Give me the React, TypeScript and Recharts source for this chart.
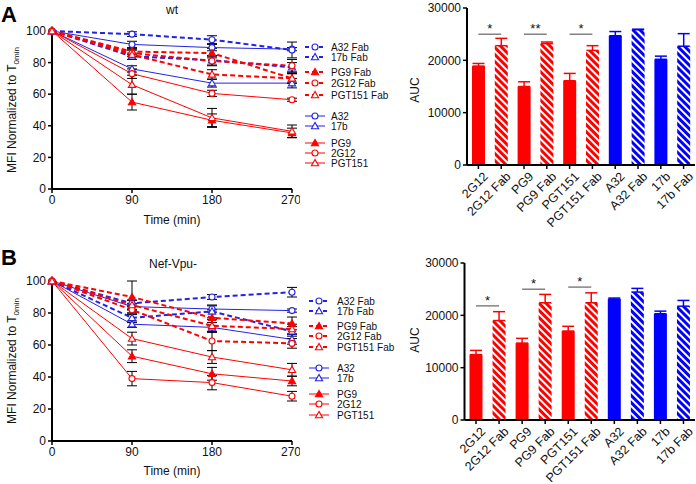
import React from 'react';
import { LineChart, Line, XAxis, YAxis, ErrorBar, BarChart, Bar, ReferenceLine } from 'recharts';

const RED = '#ff0000';
const BLUE = '#0000ff';
const LBLUE = '#2323e8';
const FONT = '"Liberation Sans", Arial, Helvetica, sans-serif';

const timePoints = [0, 90, 180, 270];

// panel A (wt), MFI normalized to T0min
const wtA32Fab = [100, 98, 94.5, 88];
const wtA32FabErr = [0, 1.5, 2.5, 5];
const wt17bFab = [100, 84, 81.5, 77];
const wt17bFabErr = [0, 2, 3, 3];
const wtPG9Fab = [100, 87, 86, 70];
const wtPG9FabErr = [0, 2, 3, 3];
const wt2G12Fab = [100, 86, 81, 78];
const wt2G12FabErr = [0, 2, 3, 4];
const wtPGT151Fab = [100, 85, 72.5, 70];
const wtPGT151FabErr = [0, 3, 3, 3];
const wtA32 = [100, 91.5, 89.5, 88.5];
const wtA32Err = [0, 2, 2, 1];
const wt17b = [100, 76, 67, 67];
const wt17bErr = [0, 2, 2.5, 3];
const wtPG9 = [100, 55, 43.5, 35.5];
const wtPG9Err = [0, 5, 4, 3];
const wt2G12 = [100, 73, 60.5, 56.5];
const wt2G12Err = [0, 3, 2, 1];
const wtPGT151 = [100, 66, 45, 36.5];
const wtPGT151Err = [0, 6, 6, 4];

// panel B (Nef-Vpu-)
const nvA32Fab = [100, 86, 90, 93];
const nvA32FabErr = [0, 2, 1.5, 3];
const nv17bFab = [100, 77, 81, 68.5];
const nv17bFabErr = [0, 3, 4, 3];
const nvPG9Fab = [100, 90, 77, 73.5];
const nvPG9FabErr = [0, 10, 5, 4];
const nv2G12Fab = [100, 82, 62.5, 61];
const nv2G12FabErr = [0, 3, 6, 3];
const nvPGT151Fab = [100, 85, 72, 70];
const nvPGT151FabErr = [0, 3, 4, 3];
const nvA32 = [100, 84, 82.5, 81.5];
const nvA32Err = [0, 2, 2, 1];
const nv17b = [100, 73, 71, 63.5];
const nv17bErr = [0, 2, 3, 3];
const nvPG9 = [100, 53, 42, 37.5];
const nvPG9Err = [0, 4, 4, 3];
const nv2G12 = [100, 39, 36.5, 28];
const nv2G12Err = [0, 4.5, 4.5, 3];
const nvPGT151 = [100, 64, 52.5, 44.5];
const nvPGT151Err = [0, 4, 4, 4];

// AUC bars
const aucCategories = ['2G12', '2G12 Fab', 'PG9', 'PG9 Fab', 'PGT151', 'PGT151 Fab', 'A32', 'A32 Fab', '17b', '17b Fab'];
const wtAuc = [18900, 22800, 15000, 23200, 16100, 21900, 24700, 25850, 20200, 22700];
const wtAucErr = [500, 1400, 900, 300, 1400, 900, 800, 100, 600, 2400];
const nvAuc = [12500, 19000, 14700, 22400, 17000, 22400, 23100, 24450, 20300, 21750];
const nvAucErr = [800, 1700, 900, 1600, 900, 1900, 200, 700, 500, 1100];
const wtSig = [['2G12', '2G12 Fab', '*', 25000], ['PG9', 'PG9 Fab', '**', 25000], ['PGT151', 'PGT151 Fab', '*', 25000]];
const nvSig = [['2G12', '2G12 Fab', '*', 21800], ['PG9', 'PG9 Fab', '*', 25000], ['PGT151', 'PGT151 Fab', '*', 25400]];

type Mk = 'circle' | 'triangle' | 'filled';
type S = { key: string; name: string; color: string; dashed: boolean; marker: Mk; v: number[]; e: number[] };

const wtSeries: S[] = [
  { key: 'A32', name: 'A32', color: LBLUE, dashed: false, marker: 'circle', v: wtA32, e: wtA32Err },
  { key: 'b17', name: '17b', color: LBLUE, dashed: false, marker: 'triangle', v: wt17b, e: wt17bErr },
  { key: 'PG9', name: 'PG9', color: RED, dashed: false, marker: 'filled', v: wtPG9, e: wtPG9Err },
  { key: 'G2G12', name: '2G12', color: RED, dashed: false, marker: 'circle', v: wt2G12, e: wt2G12Err },
  { key: 'PGT151', name: 'PGT151', color: RED, dashed: false, marker: 'triangle', v: wtPGT151, e: wtPGT151Err },
  { key: 'A32Fab', name: 'A32 Fab', color: LBLUE, dashed: true, marker: 'circle', v: wtA32Fab, e: wtA32FabErr },
  { key: 'b17Fab', name: '17b Fab', color: LBLUE, dashed: true, marker: 'triangle', v: wt17bFab, e: wt17bFabErr },
  { key: 'PG9Fab', name: 'PG9 Fab', color: RED, dashed: true, marker: 'filled', v: wtPG9Fab, e: wtPG9FabErr },
  { key: 'G2G12Fab', name: '2G12 Fab', color: RED, dashed: true, marker: 'circle', v: wt2G12Fab, e: wt2G12FabErr },
  { key: 'PGT151Fab', name: 'PGT151 Fab', color: RED, dashed: true, marker: 'triangle', v: wtPGT151Fab, e: wtPGT151FabErr },
];

const nvSeries: S[] = [
  { key: 'A32', name: 'A32', color: LBLUE, dashed: false, marker: 'circle', v: nvA32, e: nvA32Err },
  { key: 'b17', name: '17b', color: LBLUE, dashed: false, marker: 'triangle', v: nv17b, e: nv17bErr },
  { key: 'PG9', name: 'PG9', color: RED, dashed: false, marker: 'filled', v: nvPG9, e: nvPG9Err },
  { key: 'G2G12', name: '2G12', color: RED, dashed: false, marker: 'circle', v: nv2G12, e: nv2G12Err },
  { key: 'PGT151', name: 'PGT151', color: RED, dashed: false, marker: 'triangle', v: nvPGT151, e: nvPGT151Err },
  { key: 'A32Fab', name: 'A32 Fab', color: LBLUE, dashed: true, marker: 'circle', v: nvA32Fab, e: nvA32FabErr },
  { key: 'b17Fab', name: '17b Fab', color: LBLUE, dashed: true, marker: 'triangle', v: nv17bFab, e: nv17bFabErr },
  { key: 'PG9Fab', name: 'PG9 Fab', color: RED, dashed: true, marker: 'filled', v: nvPG9Fab, e: nvPG9FabErr },
  { key: 'G2G12Fab', name: '2G12 Fab', color: RED, dashed: true, marker: 'circle', v: nv2G12Fab, e: nv2G12FabErr },
  { key: 'PGT151Fab', name: 'PGT151 Fab', color: RED, dashed: true, marker: 'triangle', v: nvPGT151Fab, e: nvPGT151FabErr },
];

const legendOrder = ['A32Fab', 'b17Fab', 'PG9Fab', 'G2G12Fab', 'PGT151Fab', 'A32', 'b17', 'PG9', 'G2G12', 'PGT151'];

function buildRows(series: S[]) {
  return timePoints.map((t, i) => {
    const row: any = { time: t };
    series.forEach((s) => {
      row[s.key] = s.v[i];
      row[s.key + 'Err'] = s.e[i];
    });
    return row;
  });
}

function Marker({ x, y, marker, color }: { x: number; y: number; marker: Mk; color: string }) {
  if (marker === 'circle') return <circle cx={x} cy={y} r={3} fill="#fff" stroke={color} strokeWidth={1.1} />;
  const s = 3.6;
  const pts = `${x},${y - s} ${x - s},${y + s * 0.75} ${x + s},${y + s * 0.75}`;
  return <polygon points={pts} fill={marker === 'filled' ? color : '#fff'} stroke={color} strokeWidth={1.1} />;
}

const makeDot = (marker: Mk, color: string) => (props: any) => {
  const { cx, cy, index } = props;
  if (cx == null || cy == null) return <g key={'d' + index} />;
  return (
    <g key={'d' + index}>
      <Marker x={cx} y={cy} marker={marker} color={color} />
    </g>
  );
};

const axisProps = {
  axisLine: { stroke: '#000', strokeWidth: 2 },
  tickLine: { stroke: '#000', strokeWidth: 1.5 },
  tickSize: 4,
  tick: { fill: '#111', fontSize: 12, fontFamily: FONT },
};

function TimeChart({ series, top, plotTop, plotH, height }: { series: S[]; top: number; plotTop: number; plotH: number; height: number }) {
  const rows = buildRows(series);
  return (
    <div style={{ position: 'absolute', left: 0, top }}>
      <LineChart width={300} height={height} data={rows} margin={{ top: plotTop, right: 8, bottom: height - plotTop - 30 - plotH, left: 0 }}>
        <XAxis dataKey="time" type="number" domain={[0, 270]} ticks={[0, 90, 180, 270]} height={30} {...axisProps} />
        <YAxis type="number" domain={[0, 100]} ticks={[0, 20, 40, 60, 80, 100]} width={52} {...axisProps} />
        {series.map((s) => (
          <Line
            key={s.key}
            dataKey={s.key}
            stroke={s.color}
            strokeWidth={s.dashed ? 2 : 1}
            strokeDasharray={s.dashed ? '5 3' : undefined}
            dot={makeDot(s.marker, s.color)}
            activeDot={false}
            isAnimationActive={false}
            type="linear"
          >
            <ErrorBar dataKey={s.key + 'Err'} direction="y" width={5} stroke="#000" strokeWidth={1} />
          </Line>
        ))}
      </LineChart>
    </div>
  );
}

function Legend({ series, left, textX, ys }: { series: S[]; left: number; textX: number; ys: number[] }) {
  return (
    <g>
      {legendOrder.map((k, i) => {
        const s = series.find((x) => x.key === k)!;
        const y = ys[i];
        return (
          <g key={k}>
            <line x1={left} x2={left + 20} y1={y} y2={y} stroke={s.color} strokeWidth={s.dashed ? 2 : 1} strokeDasharray={s.dashed ? '4 3' : undefined} />
            <Marker x={left + 10} y={y} marker={s.marker} color={s.color} />
            <text x={textX} y={y + 3.5} fontSize={10} fontFamily={FONT} fill="#111">{s.name}</text>
          </g>
        );
      })}
    </g>
  );
}

function AucChart({ values, errors, sig, top, left, plotTop, plotBottom, height }: any) {
  const rows = aucCategories.map((c, i) => {
    const isRed = i < 6;
    return {
      name: c,
      red: isRed ? values[i] : null,
      blue: isRed ? null : values[i],
      redErr: isRed ? [0, errors[i]] : null,
      blueErr: isRed ? null : [0, errors[i]],
    };
  });
  const shape = (color: string) => (props: any) => {
    const { x, y, width, height: h, index } = props;
    if (!h || h <= 0) return <g />;
    const hatched = index % 2 === 1;
    return <rect x={x} y={y} width={width} height={h} fill={hatched ? `url(#hatch${color === RED ? 'R' : 'B'})` : color} />;
  };
  return (
    <div style={{ position: 'absolute', left: 400, top }}>
      <BarChart width={296} height={height} data={rows} margin={{ top: plotTop, right: 1, bottom: 0, left: 0 }} barSize={13}>
        <defs>
          <pattern id="hatchR" patternUnits="userSpaceOnUse" width="5" height="5" patternTransform="rotate(-45)">
            <rect width="5" height="5" fill={RED} />
            <rect width="2" height="5" fill="#fff" />
          </pattern>
          <pattern id="hatchB" patternUnits="userSpaceOnUse" width="5" height="5" patternTransform="rotate(-45)">
            <rect width="5" height="5" fill={BLUE} />
            <rect width="2" height="5" fill="#fff" />
          </pattern>
        </defs>
        <XAxis
          dataKey="name"
          type="category"
          interval={0}
          height={height - plotBottom}
          angle={-45}
          textAnchor="end"
          tick={{ fill: '#111', fontSize: 12.5, fontFamily: FONT }}
          axisLine={{ stroke: '#000', strokeWidth: 2 }}
          tickLine={{ stroke: '#000', strokeWidth: 1.5 }}
          tickSize={4}
          dx={4}
        />
        <YAxis type="number" domain={[0, 30000]} ticks={[0, 10000, 20000, 30000]} width={left} {...axisProps} />
        <Bar dataKey="red" stackId="a" fill={RED} shape={shape(RED)} isAnimationActive={false}>
          <ErrorBar dataKey="redErr" direction="y" width={6} stroke={RED} strokeWidth={1.5} />
        </Bar>
        <Bar dataKey="blue" stackId="a" fill={BLUE} shape={shape(BLUE)} isAnimationActive={false}>
          <ErrorBar dataKey="blueErr" direction="y" width={6} stroke={BLUE} strokeWidth={1.5} />
        </Bar>
        {sig.map((s: any) => (
          <ReferenceLine
            key={s[0]}
            segment={[{ x: s[0], y: s[3] }, { x: s[1], y: s[3] }]}
            stroke="#444"
            strokeWidth={1}
            label={{ value: s[2], position: 'top', fontSize: 13, fill: '#111', offset: 1, fontFamily: FONT }}
          />
        ))}
      </BarChart>
    </div>
  );
}

function MfiLabel({ cx, cy }: { cx: number; cy: number }) {
  return (
    <text x={cx} y={cy} transform={`rotate(-90 ${cx} ${cy})`} textAnchor="middle" fontSize={12} fontFamily={FONT} fill="#111">
      MFI Normalized to T<tspan fontSize={8} dy={3}>0min</tspan>
    </text>
  );
}

export default function App() {
  return (
    <div style={{ position: 'absolute', left: 0, top: 0, width: 696, height: 484, background: '#fff', overflow: 'hidden' }}>
      <TimeChart series={wtSeries} top={0} plotTop={31} plotH={158} height={230} />
      <TimeChart series={nvSeries} top={240} plotTop={41} plotH={160} height={244} />
      <AucChart values={wtAuc} errors={wtAucErr} sig={wtSig} top={0} left={67} plotTop={8} plotBottom={165} height={240} />
      <AucChart values={nvAuc} errors={nvAucErr} sig={nvSig} top={240} left={64.5} plotTop={23} plotBottom={180} height={244} />
      <svg width={696} height={484} style={{ position: 'absolute', left: 0, top: 0, pointerEvents: 'none' }}>
        <text x={1} y={22} fontSize={22} fontWeight="bold" fontFamily={FONT}>A</text>
        <text x={1} y={265} fontSize={22} fontWeight="bold" fontFamily={FONT}>B</text>
        <text x={172} y={14} fontSize={12} textAnchor="middle" fontFamily={FONT} fill="#111">wt</text>
        <text x={173} y={268} fontSize={12} textAnchor="middle" fontFamily={FONT} fill="#111">Nef-Vpu-</text>
        <text x={172} y={224} fontSize={12} textAnchor="middle" fontFamily={FONT} fill="#111">Time (min)</text>
        <text x={172} y={475} fontSize={12} textAnchor="middle" fontFamily={FONT} fill="#111">Time (min)</text>
        <MfiLabel cx={16} cy={110} />
        <MfiLabel cx={16} cy={361} />
        <text x={419} y={90} transform="rotate(-90 419 90)" fontSize={12} textAnchor="middle" fontFamily={FONT} fill="#111">AUC</text>
        <text x={419} y={340} transform="rotate(-90 419 340)" fontSize={12} textAnchor="middle" fontFamily={FONT} fill="#111">AUC</text>
        <Legend series={wtSeries} left={305} textX={331} ys={[47, 57, 72, 83, 95, 116, 126, 143, 153, 163]} />
        <Legend series={nvSeries} left={309} textX={337} ys={[301, 311, 326, 336, 347, 368, 378, 394, 404, 415]} />
      </svg>
    </div>
  );
}
